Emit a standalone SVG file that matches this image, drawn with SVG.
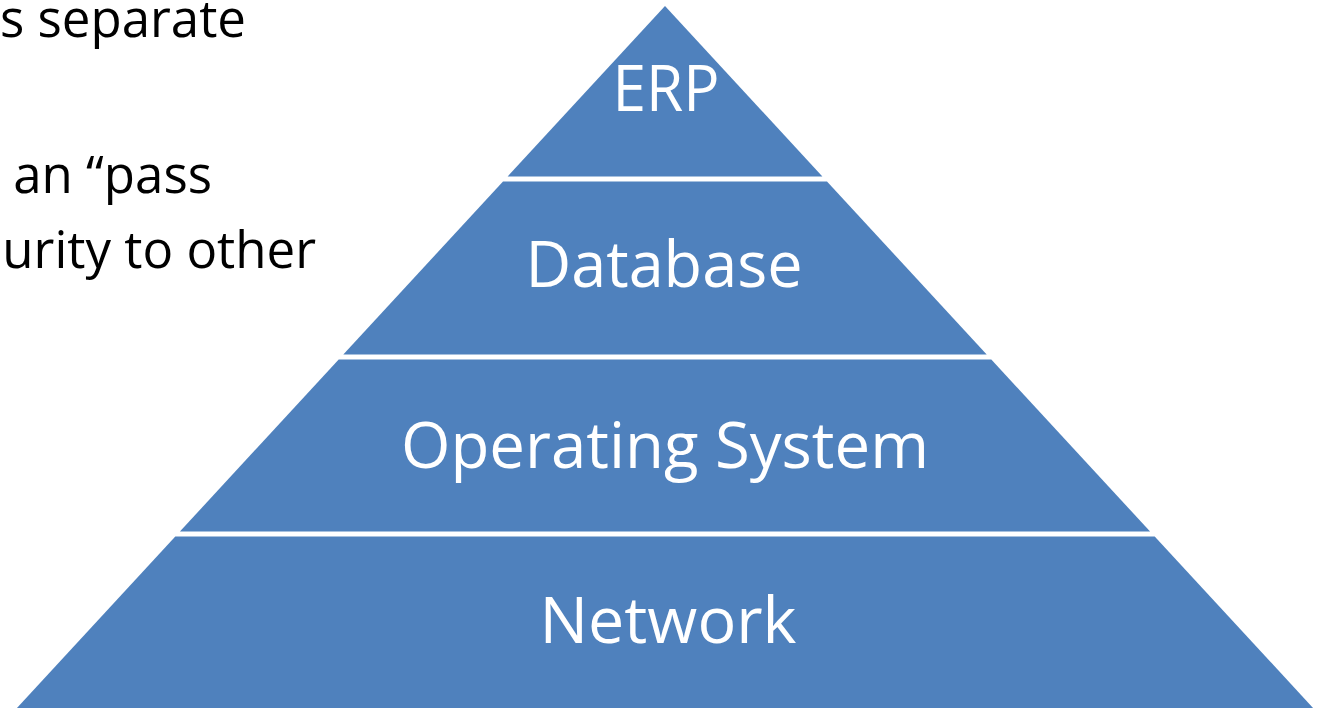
<svg xmlns="http://www.w3.org/2000/svg" width="1322" height="708" viewBox="0 0 1322 708">
  <style>
    .tier { fill: #4F81BD; }
    .tier-label { fill: #FFFFFF; font-family: "Open Sans", "Noto Sans", "Liberation Sans", sans-serif; font-size: 64px; text-anchor: middle; }
    .body { fill: #000000; font-family: "Open Sans", "Noto Sans", "Liberation Sans", sans-serif; font-size: 51px; text-anchor: end; }
  </style>
  <rect x="0" y="0" width="1322" height="708" fill="#FFFFFF"/>

  <!-- bullet text, partly off the left edge -->
  <g id="bullets">
    <text class="body" x="246" y="37">s separate</text>
    <text class="body" x="212" y="193">an “pass</text>
    <text class="body" x="316" y="268">urity to other</text>
  </g>

  <!-- four-tier pyramid, slices of one triangle separated by white gaps -->
  <g id="tier-erp">
    <polygon class="tier" points="665,6 822.4,176.5 507.6,176.5"/>
    <text class="tier-label" x="666" y="111" textLength="107" lengthAdjust="spacingAndGlyphs">ERP</text>
  </g>
  <g id="tier-database">
    <polygon class="tier" points="503,181.5 827,181.5 986.7,354.5 343.3,354.5"/>
    <text class="tier-label" x="664" y="287" textLength="277" lengthAdjust="spacingAndGlyphs">Database</text>
  </g>
  <g id="tier-os">
    <polygon class="tier" points="338.7,359.5 991.3,359.5 1150.1,531.5 179.9,531.5"/>
    <text class="tier-label" x="665" y="468" textLength="528" lengthAdjust="spacingAndGlyphs">Operating System</text>
  </g>
  <g id="tier-network">
    <polygon class="tier" points="175.3,536.5 1154.7,536.5 1314.9,710 15.1,710"/>
    <text class="tier-label" x="668" y="643" textLength="257" lengthAdjust="spacingAndGlyphs">Network</text>
  </g>
</svg>
